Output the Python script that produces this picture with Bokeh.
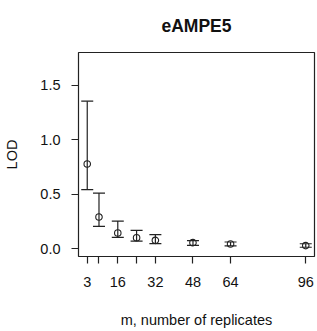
from bokeh.plotting import figure
from bokeh.models import ColumnDataSource, Whisker, TeeHead, FixedTicker, Range1d
from bokeh.embed import file_html
from bokeh.resources import INLINE

title_text = "eAMPE5"
m_values = [3, 8, 16, 24, 32, 48, 64, 96]
lod = [0.777, 0.29, 0.143, 0.10, 0.076, 0.055, 0.043, 0.028]
lod_upper = [1.353, 0.51, 0.253, 0.167, 0.128, 0.073, 0.061, 0.045]
lod_lower = [0.542, 0.204, 0.103, 0.07, 0.046, 0.03, 0.025, 0.013]
x_ticks = [3, 8, 16, 24, 32, 48, 64, 96]
x_tick_labels = ["3", "", "16", "", "32", "48", "64", "96"]
y_ticks = [0.0, 0.5, 1.0, 1.5]
y_tick_labels = ["0.0", "0.5", "1.0", "1.5"]

FONT = "Liberation Sans"
INK = "#222222"

p = figure(width=316, height=330, output_backend="svg", toolbar_location=None,
           x_range=Range1d(-0.72, 99.72), y_range=Range1d(-0.072, 1.80),
           min_border_left=78, min_border_right=2, min_border_top=52, min_border_bottom=72)

p.title.text = title_text
p.title.align = "center"
p.title.vertical_align = "top"
p.title.text_font = FONT
p.title.text_font_size = "17.5px"
p.title.text_font_style = "bold"
p.title.text_color = "#111111"
p.title.standoff = 30

p.grid.visible = False
p.background_fill_color = "white"
p.border_fill_color = "white"
p.outline_line_color = INK
p.outline_line_width = 1.2
p.outline_line_alpha = 1.0

src = ColumnDataSource(dict(m=m_values, lod=lod, up=lod_upper, lo=lod_lower))

w = Whisker(base="m", upper="up", lower="lo", source=src, dimension="height",
            line_color=INK, line_width=1.2,
            upper_head=TeeHead(size=12, line_color=INK, line_width=1.2),
            lower_head=TeeHead(size=12, line_color=INK, line_width=1.2))
p.add_layout(w)

p.scatter("m", "lod", source=src, marker="circle", size=6.5, fill_color=None,
          line_color=INK, line_width=1.1)

for ax in (p.xaxis[0], p.yaxis[0]):
    ax.axis_line_color = None
    ax.major_tick_line_color = INK
    ax.major_tick_line_width = 1.2
    ax.major_tick_out = 7
    ax.major_tick_in = 0
    ax.minor_tick_line_color = None
    ax.major_label_text_font = FONT
    ax.major_label_text_font_size = "14.5px"
    ax.major_label_text_color = "#111111"
    ax.axis_label_text_font = FONT
    ax.axis_label_text_font_size = "14.5px"
    ax.axis_label_text_font_style = "normal"
    ax.axis_label_text_color = "#111111"

p.xaxis[0].ticker = FixedTicker(ticks=x_ticks)
p.xaxis[0].major_label_overrides = {t: l for t, l in zip(x_ticks, x_tick_labels)}
p.xaxis[0].major_label_standoff = 13
p.xaxis[0].axis_label = "m, number of replicates"
p.xaxis[0].axis_label_standoff = 22

p.yaxis[0].ticker = FixedTicker(ticks=y_ticks)
p.yaxis[0].major_label_overrides = {t: l for t, l in zip(y_ticks, y_tick_labels)}
p.yaxis[0].major_label_orientation = "horizontal"
p.yaxis[0].major_label_standoff = 11
p.yaxis[0].axis_label = "LOD"
p.yaxis[0].axis_label_standoff = 17

open("out.html", "w").write(file_html(p, INLINE))
